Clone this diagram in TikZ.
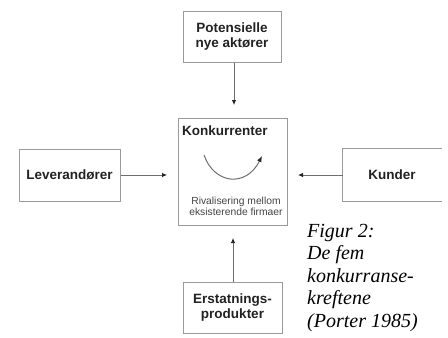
\documentclass[tikz,border=0pt]{standalone}
\usepackage{fontspec}
\setmainfont{Liberation Serif}
\setsansfont{Liberation Sans}
\usetikzlibrary{arrows.meta}
\definecolor{boxgray}{HTML}{9A9A9A}
\definecolor{linegray}{HTML}{6E6E6E}
\definecolor{txt}{HTML}{222222}
\begin{document}
\begin{tikzpicture}[x=1pt,y=-1pt,
  forcebox/.style={draw=boxgray, line width=1pt, inner sep=0pt, align=center,
    text=txt, font=\sffamily\bfseries\fontsize{13.5}{15.5}\selectfont},
  conn/.style={draw=linegray, line width=0.8pt, -{Latex[length=5pt,width=4.5pt,color=black!85]}},
  captext/.style={anchor=base west, inner sep=0pt, font=\rmfamily\itshape\fontsize{20}{22}\selectfont, text=black}
]
\useasboundingbox (0,0) rectangle (448,338);
% boxes
\node[forcebox, minimum width=98pt, minimum height=51pt] (top) at (232,36.5) {Potensielle\\nye aktører};
\node[draw=boxgray, line width=1pt, minimum width=109pt, minimum height=107pt, inner sep=0pt] (mid) at (232.5,171.5) {};
\node[forcebox, minimum width=101pt, minimum height=52pt] (lev) at (69.5,175) {Leverandører};
\node[forcebox, draw=none, minimum width=98pt, minimum height=52pt] (kun) at (392,175) {Kunder};
\draw[boxgray, line width=1pt] (kun.north east) -- (kun.north west) -- (kun.south west) -- (kun.south east);
\node[forcebox, minimum width=99pt, minimum height=51pt] (ers) at (232.5,307.5) {Erstatnings-\\[-1pt]produkter};
% centre texts
\node[anchor=base west, inner sep=0pt, text=txt, font=\sffamily\bfseries\fontsize{13.5}{15.5}\selectfont] (konk) at (182,135) {Konkurrenter};
\node[anchor=base, inner sep=0pt, text=txt!85, font=\sffamily\fontsize{10.3}{11}\selectfont] (riv1) at (236,204) {Rivalisering mellom};
\node[anchor=base, inner sep=0pt, text=txt!85, font=\sffamily\fontsize{10.3}{11}\selectfont] (riv2) at (236,215) {eksisterende firmaer};
% curved arrow
\coordinate (cs) at (204,155);
\coordinate (ce) at (262,156);
\draw[linegray, line width=1pt, -{Latex[length=6pt,width=5pt,color=black!85]}] (cs) .. controls (214,184) and (246,188) .. (ce);
% arrow tips
\coordinate (tT) at (234,105);
\coordinate (tL) at (167,175);
\coordinate (tR) at (298,175);
\coordinate (tB) at (233,238);
\draw[conn] (top.south -| tT) -- (tT);
\draw[conn] (lev.east) -- (tL);
\draw[conn] (kun.west) -- (tR);
\draw[conn] (ers.north -| tB) -- (tB);
% caption
\node[captext] (c1) at (307,237) {Figur 2:};
\node[captext] (c2) at (307,259.5) {De fem};
\node[captext] (c3) at (307,282) {konkurranse-};
\node[captext] (c4) at (307,304.5) {kreftene};
\node[captext] (c5) at (307,327) {(Porter 1985)};
\end{tikzpicture}
\end{document}
